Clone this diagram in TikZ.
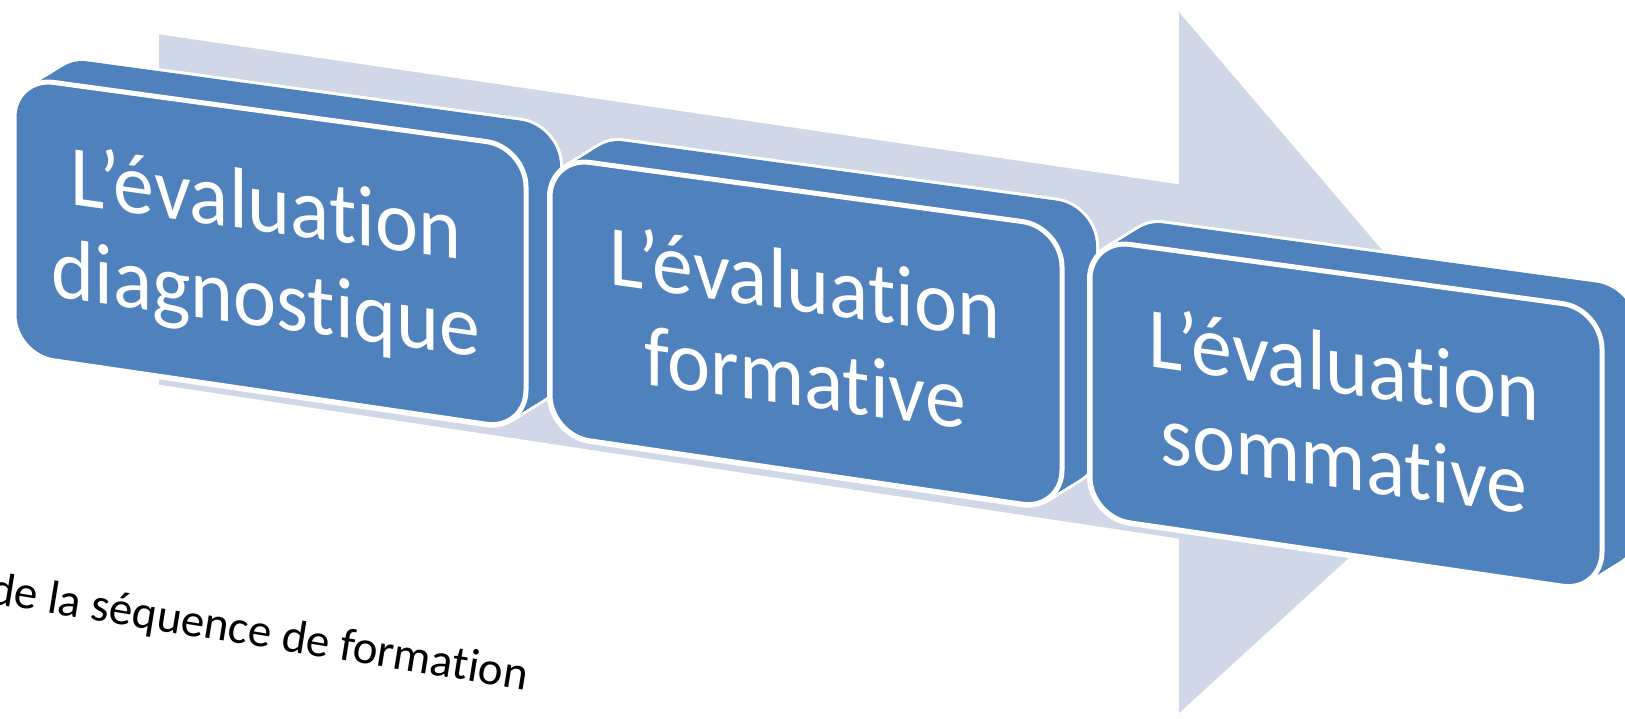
\documentclass[tikz,border=0pt]{standalone}
\usepackage{fontspec}
\setmainfont{Carlito}[Ligatures={NoCommon}]
\definecolor{boxblue}{HTML}{4F81BD}
\definecolor{arrowgray}{HTML}{D0D8E8}
\newcommand{\drawface}[3]{\path[rounded corners=40pt,#3] (#1,#2+140) -- (#1,#2) -- (#1+512,#2+70) -- (#1+512,#2+353) -- (#1,#2+278) -- cycle;}
\newcommand{\cube}[2]{%
  \foreach \t in {0,...,24}{\begin{scope}[shift={(34*\t/24,-21*\t/24)}]\drawface{#1}{#2}{draw=white,line width=6pt,line join=round}\end{scope}}%
  \foreach \t in {0,...,24}{\begin{scope}[shift={(34*\t/24,-21*\t/24)}]\drawface{#1}{#2}{fill=boxblue}\end{scope}}%
  \drawface{#1}{#2}{fill=boxblue,draw=white,line width=5pt,line join=round}%
}
\begin{document}
\begin{tikzpicture}[x=1pt,y=-1pt,
  boxtext/.style={text=white,inner sep=0pt,anchor=base,yslant=-0.14,xscale=0.95,font=\fontsize{86}{96}\selectfont},
  edge/.style={draw=white,line width=2.5pt}]
\useasboundingbox (0,0) rectangle (1625,718);
% big arrow
\coordinate (A1) at (159,33);
\coordinate (A2) at (1179,183);
\coordinate (A3) at (1179,10);
\coordinate (A4) at (1517,406);
\coordinate (A5) at (1179,715);
\coordinate (A6) at (1179,540);
\coordinate (A7) at (159,386);
\fill[arrowgray,yshift=4pt] (A1) -- (A2) -- (A3) -- (A4) -- (A5) -- (A6) -- (A7) -- cycle;
\fill[arrowgray,yshift=-4pt] (A1) -- (A2) -- (A3) -- (A4) -- (A5) -- (A6) -- (A7) -- cycle;
\fill[arrowgray] (A1) -- (A2) -- (A3) -- (A4) -- (A5) -- (A6) -- (A7) -- cycle;
\draw[edge] (A1) -- (A2);
\draw[edge] (A3) -- (A4) -- (A5);
\draw[edge] (A6) -- (A7);
% boxes
\cube{14}{77}
\cube{550}{157}
\cube{1090}{239}
% texts
\node[boxtext] (b1a) at (266,232) {L’évaluation};
\node[boxtext] (b1b) at (266,327) {diagnostique};
\node[boxtext] (b2a) at (805,312) {L’évaluation};
\node[boxtext] (b2b) at (805,407) {formative};
\node[boxtext] (b3a) at (1344,394) {L’évaluation};
\node[boxtext] (b3b) at (1344,489) {sommative};
\node[anchor=base west,rotate=-9.2,inner sep=0pt,font=\fontsize{47}{56}\selectfont] (seq) at (-12,603) {de la séquence de formation};
\end{tikzpicture}
\end{document}
